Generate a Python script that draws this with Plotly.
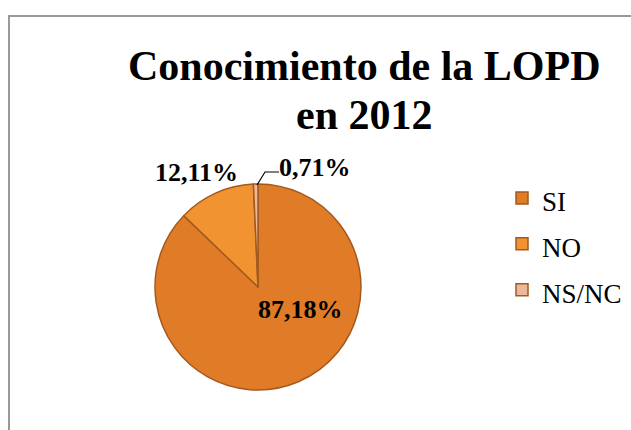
import plotly.graph_objects as go

labels = ["SI", "NO", "NS/NC"]
values = [87.18, 12.11, 0.71]
text_labels = ["87,18%", "12,11%", "0,71%"]
colors = ["#E07B28", "#F29331", "#ECB89B"]

W, H = 631, 430
cx, cy, r = 258, 287, 103

def px(x):
    return x / W

def py(y):
    return 1 - y / H

# legend text shown at 27px while row spacing follows the 33px legend font
legend_names = [f"<span style='font-size:27px'>{c}</span>" for c in labels]

fig = go.Figure()
fig.add_trace(go.Pie(
    labels=legend_names,
    values=values,
    textinfo="none",
    sort=False,
    direction="clockwise",
    rotation=0,
    marker=dict(colors=colors, line=dict(color="#A35A1F", width=1.5)),
    domain=dict(x=[px(cx - r), px(cx + r)], y=[py(cy + r), py(cy - r)]),
    hovertext=labels,
    hoverinfo="text+percent",
))

# data label placement (pixel centres), styles only
label_pos = [(300, 309), (196, 173), (315, 168)]
annotations = []
for t, (lx, ly) in zip(text_labels, label_pos):
    annotations.append(dict(
        text=f"<b>{t}</b>", x=px(lx), y=py(ly), xref="paper", yref="paper",
        xanchor="center", yanchor="middle", showarrow=False,
        font=dict(family="Liberation Serif", size=26, color="black"),
    ))

title_lines = ["Conocimiento de la LOPD", "en 2012"]
title_y = [66, 115]
for t, ty in zip(title_lines, title_y):
    annotations.append(dict(
        text=f"<b>{t}</b>", x=px(364), y=py(ty), xref="paper", yref="paper",
        xanchor="center", yanchor="middle", showarrow=False,
        font=dict(family="Liberation Serif", size=42, color="black"),
    ))

leader = "M {:.5f} {:.5f} L {:.5f} {:.5f} L {:.5f} {:.5f}".format(
    px(257), py(185), px(265), py(172), px(279), py(172))

fig.update_layout(
    width=W, height=H,
    margin=dict(l=0, r=0, t=0, b=0),
    paper_bgcolor="white",
    plot_bgcolor="white",
    annotations=annotations,
    legend=dict(
        x=px(502), xanchor="left",
        y=py(170), yanchor="top",
        font=dict(family="Liberation Serif", size=33, color="black"),
        bgcolor="rgba(0,0,0,0)",
    ),
    shapes=[
        dict(type="rect", xref="paper", yref="paper",
             x0=px(9), x1=1.05, y0=-0.05, y1=py(16),
             line=dict(color="#999999", width=2)),
        dict(type="path", xref="paper", yref="paper", path=leader,
             line=dict(color="black", width=1.2)),
    ],
)

fig.write_html("out.html")
